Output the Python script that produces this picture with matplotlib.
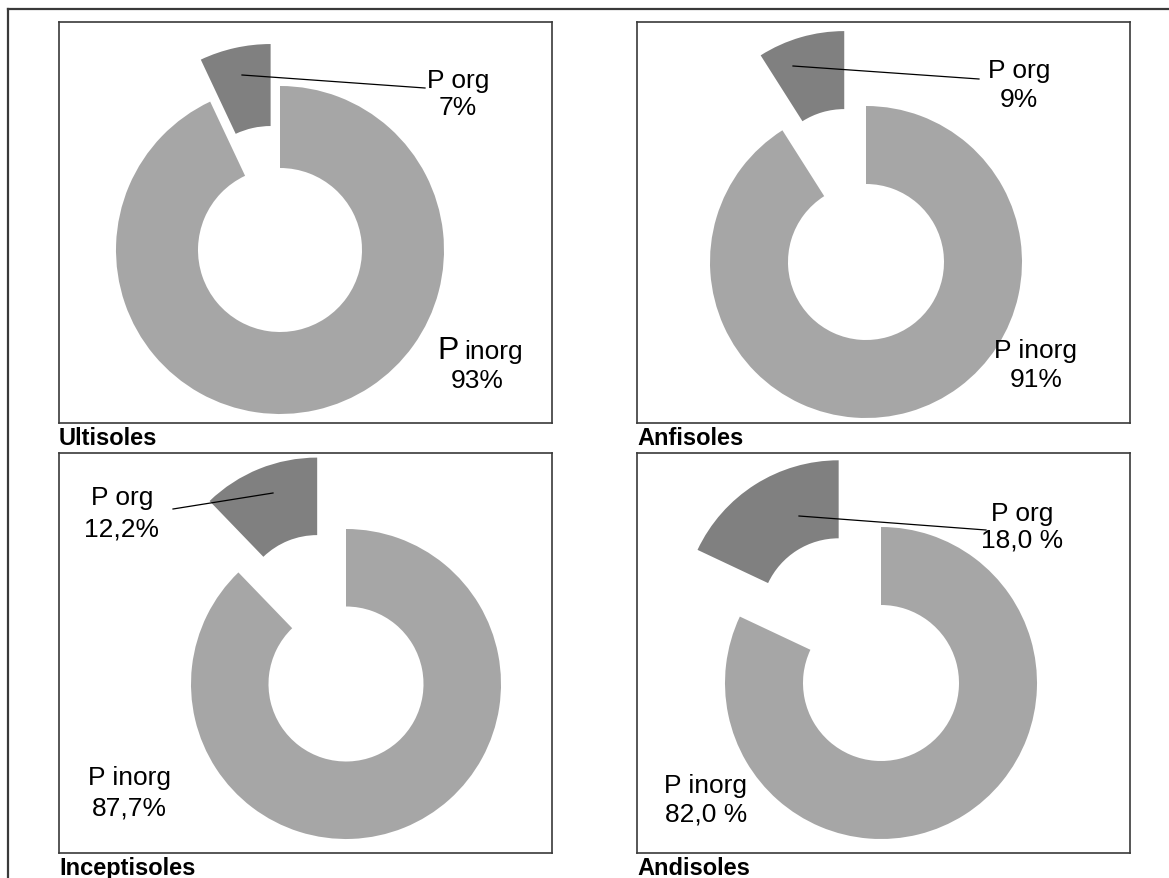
import matplotlib
matplotlib.use('Agg')
import matplotlib.pyplot as plt
from matplotlib.lines import Line2D

plt.rcParams['font.family'] = ['Liberation Sans', 'DejaVu Sans']

W, H = 1169, 879

# data
soils = ['Ultisoles', 'Anfisoles', 'Inceptisoles', 'Andisoles']
p_inorg = [93, 91, 87.7, 82.0]
p_org = [7, 9, 12.2, 18.0]
inorg_text = ['93%', '91%', '87,7%', '82,0 %']
org_text = ['7%', '9%', '12,2%', '18,0 %']

# layout, in pixels of the picture: box (x0, y0, x1, y1), donut center, radius, explode
boxes = [(59, 23, 552, 424), (637, 23, 1130, 424), (59, 454, 552, 854), (637, 454, 1130, 854)]
centers = [(280, 251), (866, 263), (346, 685), (881, 684)]
radii = [164, 156, 155, 156]
explode_px = [43, 78, 77, 79]
# label spots: (center x, baseline line 1, baseline line 2)
org_pos = [(458, 88, 115), (1019, 78, 107), (122, 505, 537), (1022, 521, 548)]
inorg_pos = [(477, 359, 388), (1036, 358, 387), (129, 785, 816), (706, 793, 822)]
leaders = [((242, 76), (425, 89)), ((793, 67), (979, 80)),
           ((273, 494), (173, 510)), ((799, 517), (986, 531))]

fig = plt.figure(figsize=(W / 100, H / 100), dpi=100)

for i in range(4):
    x0, y0, x1, y1 = boxes[i]
    ax = fig.add_axes([x0 / W, 1 - y1 / H, (x1 - x0) / W, (y1 - y0) / H])
    cx, cy = centers[i]
    R = radii[i]
    ax.pie([p_inorg[i], p_org[i]], colors=['#a6a6a6', '#808080'],
           startangle=90, counterclock=False, center=(cx, -cy), radius=R,
           explode=[0, explode_px[i]], wedgeprops=dict(width=R * 0.5, linewidth=0))
    ax.set_xlim(x0, x1)
    ax.set_ylim(-y1, -y0)
    ax.set_aspect('auto')
    ax.set_frame_on(True)
    ax.set_xticks([])
    ax.set_yticks([])
    for s in ax.spines.values():
        s.set_color('#3a3a3a')
        s.set_linewidth(1.2)

    # leader line for P org
    (ax_, ay_), (bx_, by_) = leaders[i]
    ax.plot([ax_, bx_], [-ay_, -by_], color='black', lw=0.9)

    ox, ob1, ob2 = org_pos[i]
    ax.text(ox, -ob1, 'P org', ha='center', va='baseline', fontsize=19)
    ax.text(ox, -ob2, org_text[i], ha='center', va='baseline', fontsize=19)

    ix, ib1, ib2 = inorg_pos[i]
    if i == 0:
        # first chart has a bigger "P"
        ax.text(437, -ib1, 'P', ha='left', va='baseline', fontsize=23)
        ax.text(464, -ib1, 'inorg', ha='left', va='baseline', fontsize=19)
    else:
        ax.text(ix, -ib1, 'P inorg', ha='center', va='baseline', fontsize=19)
    ax.text(ix, -ib2, inorg_text[i], ha='center', va='baseline', fontsize=19)

    # soil name under the box
    fig.text(x0 / W, 1 - (y1 + 21) / H, soils[i], ha='left', va='baseline',
             fontsize=17, fontweight='bold')

# outer frame (left and top edges show)
fig.add_artist(Line2D([8 / W, 8 / W], [0, 1 - 10 / H], color='#3a3a3a', lw=1.6,
                      transform=fig.transFigure))
fig.add_artist(Line2D([8 / W, 1], [1 - 10 / H, 1 - 10 / H], color='#3a3a3a', lw=1.6,
                      transform=fig.transFigure))

fig.savefig('out.png', dpi=100)
